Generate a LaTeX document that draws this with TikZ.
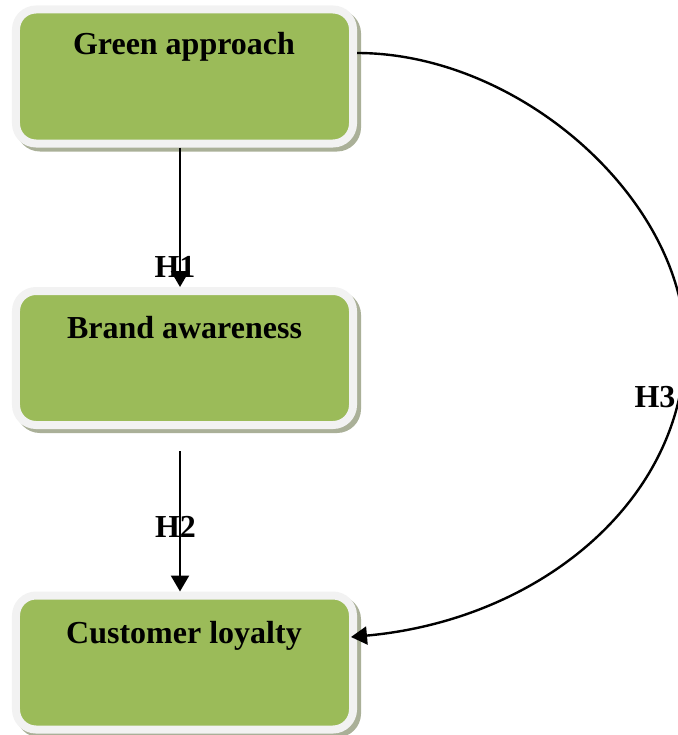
\documentclass[tikz,border=0pt]{standalone}
\usepackage{fontspec}
\setmainfont{Liberation Serif}
\usetikzlibrary{arrows.meta}
\definecolor{greenc}{RGB}{155,187,89}
\definecolor{borderc}{RGB}{242,242,242}
\definecolor{shadowc}{RGB}{170,176,152}
\begin{document}
\begin{tikzpicture}[x=1bp,y=-1bp,
  box/.style={rectangle, rounded corners=20bp, minimum width=337bp, minimum height=134bp,
    inner sep=0pt, fill=greenc, draw=borderc, line width=8bp,
    preaction={draw=shadowc, fill=shadowc, transform canvas={shift={(4bp,-4bp)}}}},
  lbl/.style={font=\bfseries\fontsize{32bp}{36bp}\selectfont, inner sep=0pt, anchor=base},
  arr/.style={line width=2.4bp, -{Triangle[length=16bp,width=18bp]}}]
\useasboundingbox (0,0) rectangle (678,735);
\clip (0,0) rectangle (678,735);
\node[box] (ga) at (184.5,76.5) {};
\node[box] (ba) at (184.5,358) {};
\node[box] (cl) at (184.5,662.5) {};
\node[lbl] (gat) at (184,55) {Green approach};
\node[lbl] (bat) at (184.5,338) {Brand awareness};
\node[lbl] (clt) at (184,643) {Customer loyalty};
\node[lbl] (h1) at (175,277) {H1};
\node[lbl] (h2) at (175.5,537) {H2};
\node[lbl] (h3) at (655,407) {H3};
\draw[arr] ([xshift=-4.5bp]ga.south) -- ([xshift=-4.5bp]ba.north);
\draw[arr] ([shift={(-4.5bp,-22bp)}]ba.south) -- ([xshift=-4.5bp]cl.north);
\coordinate (h3s) at ([yshift=23.5bp]ga.east);
\coordinate (h3m) at (685,345);
\coordinate (h3e) at ([shift={(-6bp,25.5bp)}]cl.east);
\draw[arr] (h3s) .. controls (520,53) and (685,200) .. (h3m)
  .. controls (685,500) and (540,620) .. (h3e);
\end{tikzpicture}
\end{document}
